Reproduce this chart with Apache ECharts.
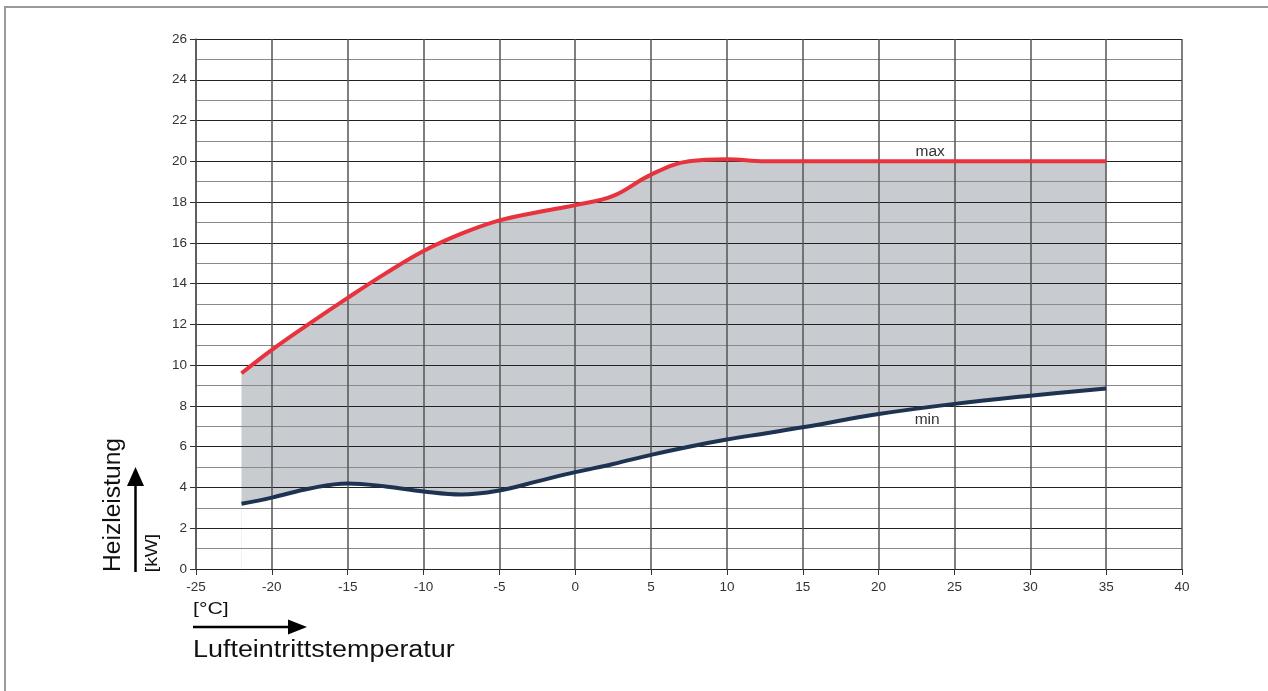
<!DOCTYPE html>
<html>
<head>
<meta charset="utf-8">
<script src="https://cdn.jsdelivr.net/npm/echarts@6/dist/echarts.min.js"></script>
<style>
html,body{margin:0;padding:0;background:#fff;}
#chart{width:1268px;height:691px;}
</style>
</head>
<body>
<div id="chart"></div>
<script>
// Air inlet temperature [°C]
const temps = [-22, -20, -17.5, -15, -12.5, -10, -7.5, -5, -2.5, 0, 2.5, 5, 7.5, 10, 12.5, 15, 20, 25, 30, 35];
// Max heating capacity [kW]
const maxKW = [9.6, 10.75, 12.05, 13.3, 14.5, 15.6, 16.45, 17.1, 17.5, 17.85, 18.3, 19.35, 20.0, 20.1, 20.0, 20.0, 20.0, 20.0, 20.0, 20.0];
// Min heating capacity [kW]
const minKW = [3.2, 3.5, 3.95, 4.2, 4.05, 3.8, 3.65, 3.85, 4.3, 4.75, 5.15, 5.6, 6.0, 6.35, 6.65, 6.95, 7.6, 8.1, 8.5, 8.85];
const xTicks = [-25, -20, -15, -10, -5, 0, 5, 10, 15, 20, 25, 30, 35, 40];
const yTicks = [0, 2, 4, 6, 8, 10, 12, 14, 16, 18, 20, 22, 24, 26];
const labelMax = {text: 'max', x: 23.4, y: 20.45};
const labelMin = {text: 'min', x: 23.2, y: 7.3};

const chart = echarts.init(document.getElementById('chart'));
const font = 'Liberation Sans, Arial, sans-serif';
const minPts = temps.map((t, i) => [t, minKW[i]]);
const maxPts = temps.map((t, i) => [t, maxKW[i]]);
const SM = 0.4;
const xMin = xTicks[0], xMax = xTicks[xTicks.length - 1];
const yMin = yTicks[0], yMax = yTicks[yTicks.length - 1];
const gridPos = {left: 196, top: 39, right: 86, bottom: 122};
const hiddenAxis = {show: false};

chart.setOption({
  animation: false,
  backgroundColor: '#fff',
  grid: [Object.assign({}, gridPos), Object.assign({}, gridPos)],
  xAxis: [
    {type: 'value', gridIndex: 0, min: xMin, max: xMax, interval: 5, show: false, splitLine: {show: false}},
    {type: 'value', gridIndex: 1, min: xMin, max: xMax, interval: 5, z: 10,
     axisLine: {show: true, onZero: false, lineStyle: {color: '#222', width: 1}},
     axisTick: {show: true, length: 6, lineStyle: {color: '#333'}},
     axisLabel: {color: '#333', fontFamily: font, fontSize: 13.5, margin: 11},
     splitLine: {show: true, lineStyle: {color: '#555', width: 1.5}}}
  ],
  yAxis: [
    {type: 'value', gridIndex: 0, min: yMin, max: yMax, interval: 2, show: false, splitLine: {show: false}},
    {type: 'value', gridIndex: 1, min: yMin, max: yMax, interval: 2, z: 10,
     axisLine: {show: true, onZero: false, lineStyle: {color: '#555', width: 1.5}},
     axisTick: {show: true, length: 6, lineStyle: {color: '#333'}},
     axisLabel: {color: '#333', fontFamily: font, fontSize: 13.5, margin: 9},
     splitLine: {show: true, lineStyle: {color: '#222', width: 1}},
     minorTick: {show: false, splitNumber: 2},
     minorSplitLine: {show: true, lineStyle: {color: '#8a8a8a', width: 1}}}
  ],
  series: [
    // band fill: grey under max, then white under min
    {type: 'line', xAxisIndex: 0, yAxisIndex: 0, data: maxPts, smooth: SM, symbol: 'none', silent: true,
     lineStyle: {opacity: 0}, areaStyle: {color: '#c8cbcf', opacity: 1, origin: 'start'}, z: 2},
    {type: 'line', xAxisIndex: 0, yAxisIndex: 0, data: minPts, smooth: SM, symbol: 'none', silent: true,
     lineStyle: {opacity: 0}, areaStyle: {color: '#ffffff', opacity: 1, origin: 'start'}, z: 3},
    // visible curves on top of the grid
    {type: 'line', xAxisIndex: 1, yAxisIndex: 1, data: maxPts, smooth: SM, symbol: 'none', z: 20,
     lineStyle: {color: '#e8323d', width: 4},
     markPoint: {symbol: 'circle', symbolSize: 0, silent: true,
       label: {show: true, position: 'inside', formatter: labelMax.text, color: '#333', fontFamily: font, fontSize: 15.5},
       data: [{coord: [labelMax.x, labelMax.y]}]}},
    {type: 'line', xAxisIndex: 1, yAxisIndex: 1, data: minPts, smooth: SM, symbol: 'none', z: 20,
     lineStyle: {color: '#1e3352', width: 4},
     markPoint: {symbol: 'circle', symbolSize: 0, silent: true,
       label: {show: true, position: 'inside', formatter: labelMin.text, color: '#333', fontFamily: font, fontSize: 15.5},
       data: [{coord: [labelMin.x, labelMin.y]}]}}
  ],
  graphic: [
    {type: 'rect', shape: {x: 5, y: 7, width: 1300, height: 720}, style: {fill: 'none', stroke: '#9a9a9a', lineWidth: 2}, z: 0},
    {type: 'text', x: 114, y: 505, rotation: Math.PI / 2, scaleX: 1.07,
     style: {text: 'Heizleistung', font: '23px ' + font, fill: '#111', align: 'center', verticalAlign: 'middle'}},
    {type: 'text', x: 153, y: 553, rotation: Math.PI / 2, scaleX: 1.2,
     style: {text: '[kW]', font: '16px ' + font, fill: '#111', align: 'center', verticalAlign: 'middle'}},
    {type: 'line', shape: {x1: 135.5, y1: 572, x2: 135.5, y2: 484}, style: {stroke: '#000', lineWidth: 2.5}},
    {type: 'polygon', shape: {points: [[127, 486], [144, 486], [135.5, 467]]}, style: {fill: '#000'}},
    {type: 'text', x: 193, y: 609, scaleX: 1.25,
     style: {text: '[°C]', font: '17px ' + font, fill: '#111', align: 'left', verticalAlign: 'middle'}},
    {type: 'line', shape: {x1: 193, y1: 627, x2: 290, y2: 627}, style: {stroke: '#000', lineWidth: 2.5}},
    {type: 'polygon', shape: {points: [[288, 619.5], [288, 634.5], [307, 627]]}, style: {fill: '#000'}},
    {type: 'text', x: 193, y: 651, scaleX: 1.17,
     style: {text: 'Lufteintrittstemperatur', font: '23px ' + font, fill: '#111', align: 'left', verticalAlign: 'middle'}}
  ]
});
</script>
</body>
</html>
